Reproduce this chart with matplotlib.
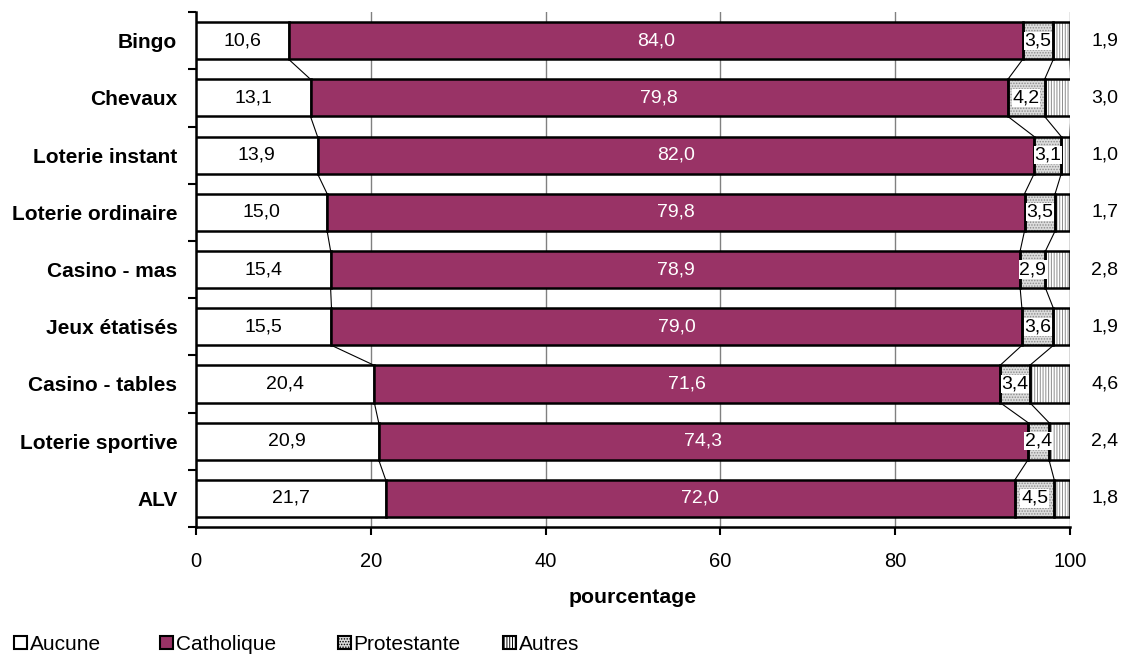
import matplotlib
matplotlib.use("Agg")
import matplotlib.pyplot as plt
from matplotlib.patches import Patch
import numpy as np

plt.rcParams['font.family'] = ['Liberation Sans', 'DejaVu Sans']
plt.rcParams['hatch.linewidth'] = 0.7

categories = ["Bingo", "Chevaux", "Loterie instant", "Loterie ordinaire", "Casino - mas",
              "Jeux étatisés", "Casino - tables", "Loterie sportive", "ALV"]
aucune = [10.6, 13.1, 13.9, 15.0, 15.4, 15.5, 20.4, 20.9, 21.7]
catholique = [84.0, 79.8, 82.0, 79.8, 78.9, 79.0, 71.6, 74.3, 72.0]
protestante = [3.5, 4.2, 3.1, 3.5, 2.9, 3.6, 3.4, 2.4, 4.5]
autres = [1.9, 3.0, 1.0, 1.7, 2.8, 1.9, 4.6, 2.4, 1.8]
series_names = ["Aucune", "Catholique", "Protestante", "Autres"]
xticks = [0, 20, 40, 60, 80, 100]

def fmt(v):
    return f"{v:.1f}".replace(".", ",")

fig = plt.figure(figsize=(11.43, 6.56), dpi=100)
ax = fig.add_axes([0.1715, 0.1966, 0.7646, 0.785])

n = len(categories)
y = np.arange(n)
h = 0.65
data = [np.array(aucune), np.array(catholique), np.array(protestante), np.array(autres)]
faces = ["white", "#993366", "#dcdcdc", "white"]
hatches = [None, None, "......", "||||||"]

left = np.zeros(n)
bounds = []
for vals, fc, ht in zip(data, faces, hatches):
    if ht:
        ax.barh(y, vals, left=left, height=h, color=fc, hatch=ht, edgecolor="#8c8c8c",
                linewidth=0, zorder=2)
        ax.barh(y, vals, left=left, height=h, fill=False, edgecolor="black",
                linewidth=1.8, zorder=3)
    else:
        ax.barh(y, vals, left=left, height=h, color=fc, edgecolor="black",
                linewidth=1.8, zorder=3)
    left = left + vals
    bounds.append(left.copy())

# series lines
for b in bounds:
    for i in range(n - 1):
        ax.plot([b[i], b[i + 1]], [i + h / 2, i + 1 - h / 2], color="black", lw=0.8, zorder=1)

fs = 14
for i in range(n):
    ax.text(aucune[i] / 2, i, fmt(aucune[i]), ha="center", va="center", fontsize=fs, zorder=5)
    ax.text(aucune[i] + catholique[i] / 2, i, fmt(catholique[i]), ha="center", va="center",
            fontsize=fs, color="white", zorder=5)
    px = aucune[i] + catholique[i] + protestante[i] / 2
    ax.text(px, i, fmt(protestante[i]), ha="center", va="center", fontsize=fs, zorder=5,
            bbox=dict(boxstyle="square,pad=0.03", fc="white", ec="none"))
    ax.text(104, i, fmt(autres[i]), ha="center", va="center", fontsize=fs, zorder=5)

ax.set_xlim(0, 100)
ax.set_ylim(n - 0.5, -0.5)
ax.set_xticks(xticks)
ax.set_xticklabels([str(t) for t in xticks], fontsize=14.5)
ax.set_yticks(y)
ax.set_yticklabels(categories, fontsize=15, fontweight="bold")
ax.tick_params(axis="y", which="major", length=0, pad=13.5)
ax.set_yticks(np.arange(-0.5, n, 1.0), minor=True)
ax.tick_params(axis="y", which="minor", length=6, width=1.5, direction="out")
ax.tick_params(axis="x", which="major", length=6, width=1.5, direction="out", pad=12)
ax.xaxis.grid(True, color="#808080", lw=1.0, zorder=0)
ax.set_axisbelow(True)
for s in ["top", "right"]:
    ax.spines[s].set_visible(False)
for s in ["left", "bottom"]:
    ax.spines[s].set_linewidth(1.8)
ax.set_xlabel("pourcentage", fontsize=15.3, fontweight="bold", labelpad=12)

handles = [Patch(facecolor="white", edgecolor="black", linewidth=1.5),
           Patch(facecolor="#993366", edgecolor="black", linewidth=1.5),
           Patch(facecolor="#dcdcdc", edgecolor="black", hatch="......", linewidth=1.5),
           Patch(facecolor="white", edgecolor="black", hatch="||||||", linewidth=1.5)]
leg_x = [14, 160, 338, 503]
for hd, name, lx in zip(handles, series_names, leg_x):
    fig.legend([hd], [name], loc="center left", bbox_to_anchor=(lx / 1143, 1 - 644 / 656),
               frameon=False, fontsize=15, handlelength=0.6, handleheight=0.6,
               handletextpad=0.15, borderpad=0, borderaxespad=0)

fig.savefig("out.png", dpi=100)
